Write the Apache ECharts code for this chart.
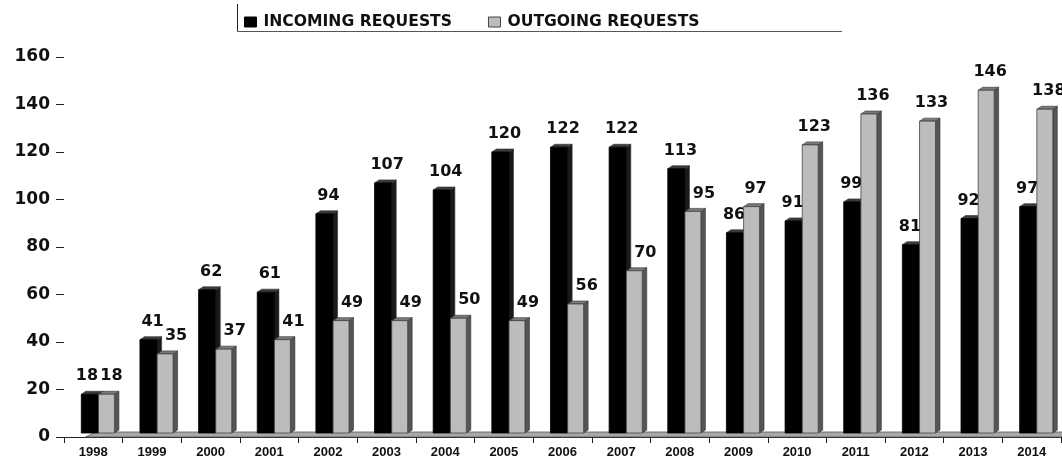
<!DOCTYPE html>
<html>
<head>
<meta charset="utf-8">
<script src="https://cdn.jsdelivr.net/npm/echarts@6/dist/echarts.min.js"></script>
<style>html,body{margin:0;padding:0;background:#fff;}#c{width:1062px;height:461px;}</style>
</head>
<body>
<div id="c"></div>
<script>
var years = ['1998','1999','2000','2001','2002','2003','2004','2005','2006','2007','2008','2009','2010','2011','2012','2013','2014'];
var incoming = [18,41,62,61,94,107,104,120,122,122,113,86,91,99,81,92,97];
var outgoing = [18,35,37,41,49,49,50,49,56,70,95,97,123,136,133,146,138];
var yTicks = [0,20,40,60,80,100,120,140,160];

var chart = echarts.init(document.getElementById('c'));
var numFont = 'DejaVu Sans';

function makeBar(kind) {
  return function (params, api) {
    var idx = api.value(0), val = api.value(1);
    var p = api.coord([idx, val]);
    var p0 = api.coord([idx, 0]);
    var band = api.size([1, 0])[0];
    var x0, x1, front, side, top, shift;
    if (kind === 'in') {
      x0 = p[0] - band * 0.205; x1 = p[0] + band * 0.088;
      front = '#000000'; side = '#1a1a1a'; top = '#3a3a3a';
      shift = (outgoing[idx] === val) ? -3 : (outgoing[idx] > val ? -1 : 4);
    } else {
      x0 = p[0] + band * 0.088; x1 = p[0] + band * 0.36;
      front = '#bcbcbc'; side = '#555555'; top = '#7a7a7a';
      shift = (incoming[idx] === val) ? 5 : (incoming[idx] > val ? 11 : 4);
    }
    var d = 4.5, h = 3;
    var yt = p[1], yb = p0[1] - 4;
    return {
      type: 'group',
      children: [
        { type: 'polygon', shape: { points: [[x1, yt], [x1 + d, yt - h], [x1 + d, yb - h], [x1, yb]] }, style: { fill: side, stroke: '#333', lineWidth: 0.6 } },
        { type: 'polygon', shape: { points: [[x0, yt], [x0 + d, yt - h], [x1 + d, yt - h], [x1, yt]] }, style: { fill: top, stroke: '#333', lineWidth: 0.6 } },
        { type: 'rect', shape: { x: x0, y: yt, width: x1 - x0, height: yb - yt }, style: { fill: front, stroke: kind === 'in' ? '#000' : '#444', lineWidth: 0.8 } },
        { type: 'text', x: (x0 + x1) / 2 + shift, y: yt - 10, style: { text: String(val), fill: '#111', font: 'bold 16px "' + numFont + '"', textAlign: 'center', textVerticalAlign: 'bottom' } }
      ]
    };
  };
}

function renderFloor(params, api) {
  var a = api.coord([-0.5, 0]);
  var b = api.coord([years.length - 0.5, 0]);
  var y = a[1];
  return {
    type: 'group',
    children: [
      { type: 'polygon', shape: { points: [[a[0] - 8, y], [b[0] + 2, y], [b[0] + 6, y - 5], [a[0] + 3, y - 5]] }, style: { fill: '#a8a8a8', stroke: '#555', lineWidth: 0.8 } }
    ]
  };
}

var option = {
  animation: false,
  backgroundColor: '#ffffff',
  grid: { left: 64, right: 1, top: 57, bottom: 24, containLabel: false },
  legend: {
    left: 239, top: 9,
    itemWidth: 12, itemHeight: 10, itemGap: 36,
    icon: 'rect',
    textStyle: { fontFamily: numFont, fontWeight: 'bold', fontSize: 15.6, color: '#111', padding: [0, 0, 0, 2] },
    data: [
      { name: 'INCOMING REQUESTS', itemStyle: { color: '#000', borderColor: '#000', borderWidth: 1 } },
      { name: 'OUTGOING REQUESTS', itemStyle: { color: '#bcbcbc', borderColor: '#444', borderWidth: 1 } }
    ]
  },
  graphic: [
    { type: 'line', shape: { x1: 237.5, y1: 4, x2: 237.5, y2: 31.5 }, style: { stroke: '#222', lineWidth: 1 } },
    { type: 'line', shape: { x1: 237.5, y1: 31.5, x2: 842, y2: 31.5 }, style: { stroke: '#555', lineWidth: 1 } }
  ],
  xAxis: {
    type: 'category',
    data: years,
    boundaryGap: true,
    axisLine: { show: true, lineStyle: { color: '#222', width: 1 } },
    axisTick: { show: true, alignWithLabel: false, length: 6, lineStyle: { color: '#222' } },
    axisLabel: { margin: 9, fontFamily: 'Liberation Sans', fontWeight: 'bold', fontSize: 13, color: '#111', interval: 0 },
    splitLine: { show: false }
  },
  yAxis: {
    type: 'value',
    min: 0, max: 160, interval: 20,
    axisLine: { show: false },
    axisTick: { show: true, length: 8, lineStyle: { color: '#222' } },
    axisLabel: {
      margin: 14, fontFamily: numFont, fontWeight: 'bold', fontSize: 17, color: '#111',
      formatter: function (v) { return yTicks.indexOf(v) >= 0 ? String(v) : ''; }
    },
    splitLine: { show: false }
  },
  series: [
    { type: 'custom', name: 'floor', silent: true, renderItem: renderFloor, data: [[0, 0]], z: 1, clip: false },
    { type: 'custom', name: 'INCOMING REQUESTS', itemStyle: { color: '#000' }, renderItem: makeBar('in'), data: incoming.map(function (v, i) { return [i, v]; }), z: 2, clip: false },
    { type: 'custom', name: 'OUTGOING REQUESTS', itemStyle: { color: '#bcbcbc' }, renderItem: makeBar('out'), data: outgoing.map(function (v, i) { return [i, v]; }), z: 3, clip: false }
  ]
};
chart.setOption(option);
</script>
</body>
</html>
